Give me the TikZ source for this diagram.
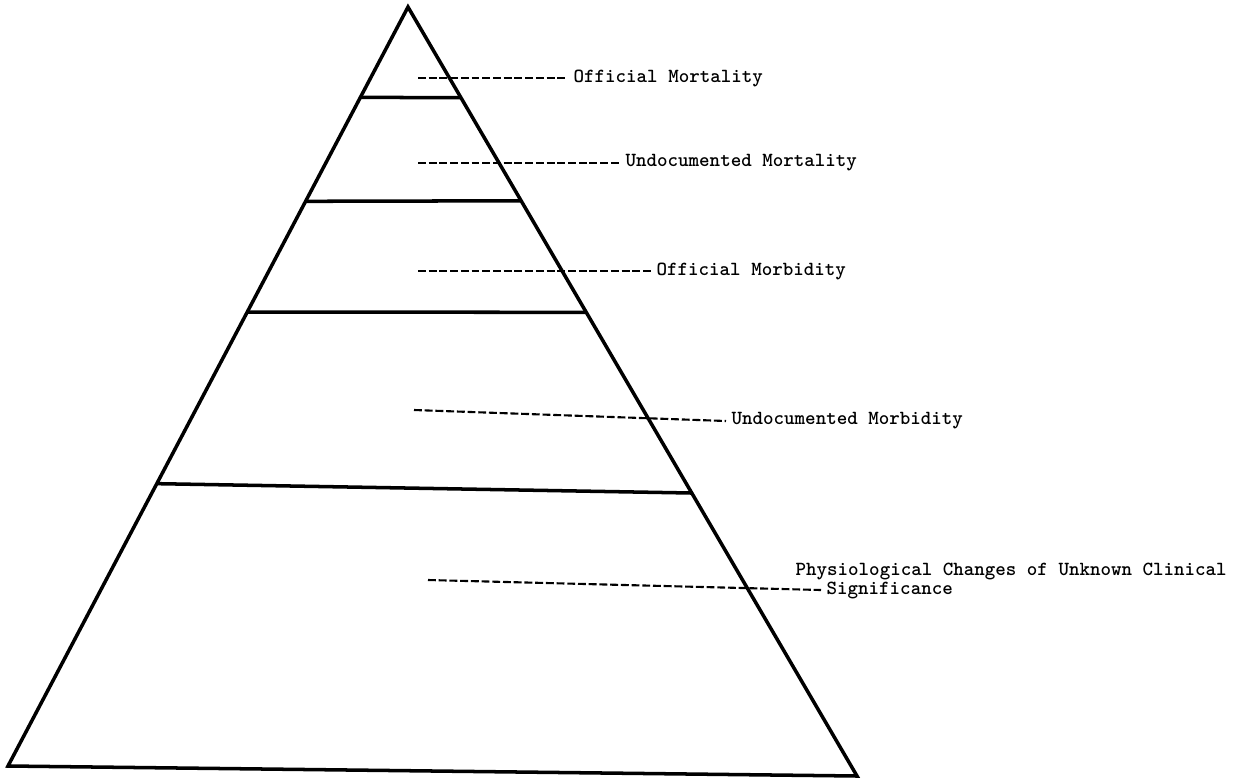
\documentclass[tikz,border=0pt]{standalone}
\usepackage{fontspec}
\usetikzlibrary{calc,
                positioning}

\begin{document}
\begin{tikzpicture}[
			x=0.02cm, y=-0.02cm,
			tier/.style = {line width=2pt},
			lead/.style = {line width=1.2pt, dash pattern=on 4.5pt off 1.6pt},
			note/.style = {anchor=west, inner xsep=3pt, inner ysep=0pt,
				font=\ttfamily\bfseries\fontsize{11.4}{13}\selectfont},
			]
			\useasboundingbox (0,0) rectangle (1238,782);
			% pyramid
			\coordinate (top) at (408,7);
			\coordinate (bl) at (8,766);
			\coordinate (br) at (857,776);
			\draw[tier, line join=miter] (top) -- (br) -- (bl) -- cycle;
			% tiers
			\draw[tier] ($(top)!.119!(bl)$) -- ($(top)!.118!(br)$);
			\draw[tier] ($(top)!.256!(bl)$) -- ($(top)!.252!(br)$);
			\draw[tier] ($(top)!.402!(bl)$) -- ($(top)!.397!(br)$);
			\draw[tier] ($(top)!.628!(bl)$) -- ($(top)!.632!(br)$);
			% notes
			\node[note] (offmort) at (568,78) {Official Mortality};
			\node[note] (undmort) at (620,163) {Undocumented Mortality};
			\node[note] (offmorb) at (651,271) {Official Morbidity};
			\node[note] (undmorb) at (726,421) {Undocumented Morbidity};
			\node[note] (signif) at (821,590) {Significance};
			\node[note] (physio) at (790,571) {Physiological Changes of Unknown Clinical};
			% leaders
			\coordinate (s1) at (418,78);
			\coordinate (s2) at (418,163);
			\coordinate (s3) at (418,271);
			\coordinate (s4) at (414,410);
			\coordinate (s5) at (428,580);
			\draw[lead] (s1) -- (offmort.west);
			\draw[lead] (s2) -- (undmort.west);
			\draw[lead] (s3) -- (offmorb.west);
			\draw[lead] (s4) -- (undmorb.west);
			\draw[lead] (s5) -- (signif.west);
		\end{tikzpicture}
\end{document}
